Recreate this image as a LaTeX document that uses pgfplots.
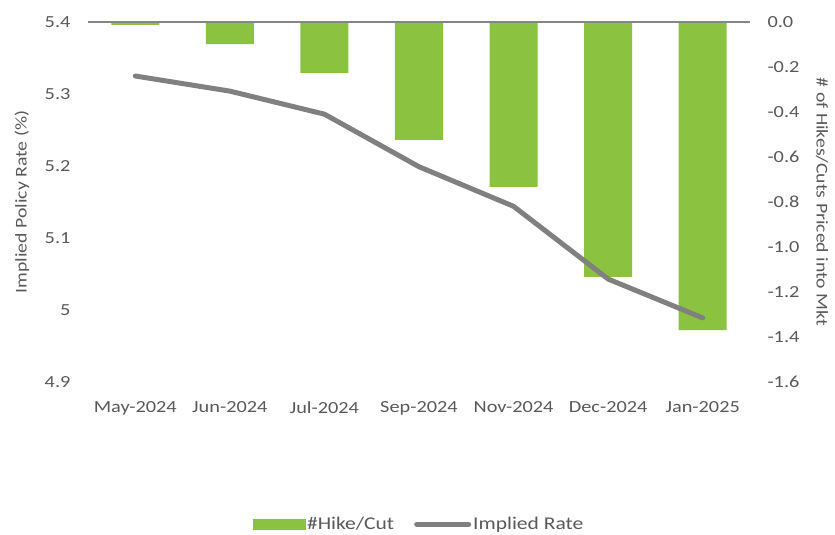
\documentclass[border=0pt]{standalone}
\usepackage{pgfplots}
\pgfplotsset{compat=1.18}
\usepackage{fontspec}
\setmainfont{Carlito}[FakeStretch=1.2]
\definecolor{barg}{HTML}{8BC23F}
\definecolor{lineg}{HTML}{808080}
\definecolor{axg}{HTML}{868686}
\definecolor{txt}{HTML}{595959}
\begin{document}
\begin{tikzpicture}
% bars on secondary (right) axis
\begin{axis}[
  at={(0,0)}, anchor=south west, scale only axis,
  width=662bp, height=360bp,
  xmin=-0.5, xmax=6.5, ymin=-1.6, ymax=0,
  axis line style={draw=none},
  major tick length=0pt,
  xtick=\empty,
  ytick={-1.6,-1.4,...,0},
  yticklabel pos=right,
  /pgf/number format/assume math mode=true,
  yticklabel style={/pgf/number format/fixed, /pgf/number format/fixed zerofill, /pgf/number format/precision=1,
     font=\fontsize{17}{20}\selectfont, text=txt, anchor=west, xshift=14bp},
  ylabel={\# of Hikes/Cuts Priced into Mkt},
  every axis y label/.style={at={(rel axis cs:1,0.5)}, xshift=72bp, rotate=-90, anchor=center,
     font=\fontsize{16.5}{19}\selectfont, text=txt},
  clip=false,
]
\addplot[ybar, bar width=48bp, fill=barg, draw=none] coordinates {
 (0,-0.013) (1,-0.098) (2,-0.227) (3,-0.524) (4,-0.733) (5,-1.133) (6,-1.369)};
\draw[axg, line width=1.5bp] (axis cs:-0.5,0) -- (axis cs:6.5,0);
\end{axis}
% line on primary (left) axis
\begin{axis}[
  at={(0,0)}, anchor=south west, scale only axis,
  width=662bp, height=360bp,
  xmin=-0.5, xmax=6.5, ymin=4.9, ymax=5.4,
  axis line style={draw=none},
  major tick length=0pt,
  xtick={0,...,6},
  xticklabels={May-2024,Jun-2024,Jul-2024,Sep-2024,Nov-2024,Dec-2024,Jan-2025},
  xticklabel style={font=\fontsize{17}{20}\selectfont, text=txt, anchor=north, yshift=-16bp},
  ytick={4.9,5,5.1,5.2,5.3,5.4},
  yticklabels={4.9,5,5.1,5.2,5.3,5.4},
  yticklabel style={font=\fontsize{17}{20}\selectfont, text=txt, anchor=east, xshift=-14bp},
  ylabel={Implied Policy Rate (\%)},
  every axis y label/.style={at={(rel axis cs:0,0.5)}, xshift=-66bp, rotate=90, anchor=center,
     font=\fontsize{16.5}{19}\selectfont, text=txt},
  legend columns=2,
  legend style={draw=none, fill=none, at={(0.5,-0.395)}, anchor=center,
     font=\fontsize{18}{21}\selectfont, text=txt,
     /tikz/every even column/.append style={column sep=18bp}},
  clip=false,
]
\addlegendimage{legend image code/.code={\fill[barg] (0bp,-5bp) rectangle (52bp,5bp);}}
\addlegendentry{\#Hike/Cut}
\addplot[lineg, line width=5bp, line join=round, line cap=round,
  legend image code/.code={\draw[lineg, line width=5bp, line cap=round] (0bp,0bp) -- (52bp,0bp);}]
  coordinates {(0,5.325) (1,5.304) (2,5.272) (3,5.199) (4,5.144) (5,5.043) (6,4.989)};
\addlegendentry{Implied Rate}
\end{axis}
\pgfresetboundingbox
\path[use as bounding box] (-88bp,-153bp) rectangle (747bp,382bp);
\end{tikzpicture}
\end{document}
